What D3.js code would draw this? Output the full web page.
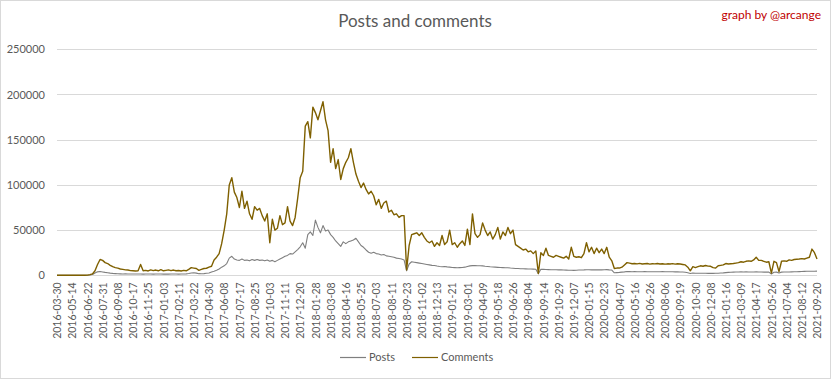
<!DOCTYPE html>
<html><head><meta charset="utf-8">
<script src="https://cdn.jsdelivr.net/npm/d3@7"></script>
<style>
body{margin:0;background:#fff;}
svg{display:block;font-family:Lato,"Open Sans",sans-serif;}
</style></head>
<body><svg id="c" width="831" height="379"></svg>
<script>
const tickLabels = ["2016-03-30","2016-05-14","2016-06-22","2016-07-31","2016-09-08","2016-10-17","2016-11-25","2017-01-03","2017-02-11","2017-03-22","2017-04-30","2017-06-08","2017-07-17","2017-08-25","2017-10-03","2017-11-11","2017-12-20","2018-01-28","2018-03-08","2018-04-16","2018-05-25","2018-07-03","2018-08-11","2018-09-23","2018-11-02","2018-12-13","2019-01-21","2019-03-01","2019-04-09","2019-05-18","2019-06-26","2019-08-04","2019-09-14","2019-10-29","2019-12-07","2020-01-15","2020-02-23","2020-04-07","2020-05-16","2020-06-26","2020-08-06","2020-09-19","2020-10-30","2020-12-08","2021-01-16","2021-03-09","2021-04-17","2021-05-26","2021-07-04","2021-08-12","2021-09-20"];
const yTicks = [0,50000,100000,150000,200000,250000];
const seriesNames = ["Posts","Comments"];
const comments = [
0,0,0,0,0,0,0,0,0,0,
0,0,200,800,1500,5000,12000,17500,16500,14000,
13000,11000,9500,8500,8000,7000,6500,6000,5800,5200,
5000,4800,5000,12000,5000,5500,4800,6000,5200,5800,
5000,6200,5000,5500,6000,5200,5800,5000,5300,4800,
5500,5000,6500,8500,8000,7500,5500,6500,7500,7800,
9000,10000,17000,20000,24000,35000,50000,68000,100000,108000,
92000,86000,75000,93000,74000,82000,68000,62000,76000,72000,
74000,66000,60000,68000,36000,62000,50000,52000,66000,56000,
58000,76000,60000,55000,64000,85000,108000,115000,165000,170000,
152000,186000,180000,172000,182000,192000,172000,160000,125000,140000,
118000,128000,106000,118000,125000,130000,140000,125000,112000,104000,
97000,102000,95000,90000,93000,88000,78000,84000,74000,80000,
82000,70000,72000,67000,68000,64000,66000,66000,6000,33000,
45000,46000,47000,44000,47000,42000,38000,36000,38000,32000,
36000,33000,44000,34000,37000,50000,34000,36000,31000,35000,
38000,33000,51000,34000,68000,46000,42000,45000,58000,50000,
44000,48000,40000,45000,53000,40000,48000,44000,53000,46000,
50000,34000,32000,30000,28000,29000,26000,27000,24000,27000,
2000,25000,22000,30000,22000,21000,20000,22000,21000,20000,
19000,21000,18000,31000,21000,20000,20500,19500,24000,36000,
26000,31000,24000,30000,25000,29000,24000,31000,20000,16000,
7500,8000,8000,9000,11500,14000,13500,12800,13000,12600,
13200,12500,12800,13000,12400,12800,12600,13000,12500,12800,
12300,12700,12500,12900,12400,12800,12500,12000,11500,9000,
5000,9500,8500,9500,10500,10000,10800,10200,10000,8500,
8000,10500,11000,11500,13000,12500,12800,13000,13500,14000,
15000,14500,15500,16000,15500,17000,20000,16500,16500,15500,
14500,15000,2500,15500,14000,4000,15500,16000,15500,17000,
16500,17500,17800,18000,18500,18000,19000,20000,29000,25000,
18000];
const posts = [
0,0,0,0,0,0,0,0,0,0,
0,0,0,300,800,2500,3800,4200,3700,3200,
2800,2400,2100,1900,1700,1600,1500,1600,1500,1400,
1500,1400,1500,1400,1300,1400,1500,1400,1300,1400,
1500,1400,1300,1400,1300,1400,1500,1400,1300,1400,
1500,1600,2000,2600,2800,2400,1800,1700,1900,2200,
2500,3700,4500,5500,7000,9000,10500,13000,19000,21000,
18000,17000,16500,18000,16500,17000,16000,17500,16500,17500,
16500,17000,16000,17000,15500,16500,15000,16500,18000,19500,
21000,22000,24000,23500,26000,28500,31500,36000,30000,45000,
48000,44000,61000,53000,47000,55000,49000,50000,45000,42000,
38000,35000,32000,37000,35000,37000,38000,39000,41000,37000,
33000,31000,28000,25500,24500,25500,24000,23500,22500,23000,
21500,21000,20500,20000,19000,18500,18000,17000,5000,12500,
15000,14500,14000,13500,13000,12500,12000,11500,11000,10800,
10200,9800,9500,9800,9300,9000,8600,8500,8400,8500,
8600,9000,9800,10400,10700,10800,10600,10500,10400,10000,
9700,9400,9200,9000,8800,8600,8500,8400,8300,8000,
7800,7600,7500,7300,7200,7100,7000,6900,6800,6700,
1800,6600,6500,6400,6300,6200,6200,6100,6000,6000,
5800,5700,5600,5600,5500,5600,5800,5900,6000,6200,
6100,6000,6100,6000,6200,6000,6100,6300,6000,5800,
2800,3000,3200,3500,3800,4200,4100,4000,4100,4000,
3900,4000,4100,4000,3900,4000,4000,3900,4000,4100,
4000,3900,4000,3900,3800,3800,3700,3600,3400,2800,
2000,2500,2300,2200,2200,2300,2200,2100,2200,2100,
2200,2300,2500,2700,3000,3200,3400,3500,3600,3700,
3800,3700,3800,3700,3600,3700,3800,3700,3600,3500,
3600,3500,1500,3400,3500,2500,3500,3600,3600,3700,
3800,3900,4000,4100,4200,4300,4400,4400,4500,4500,
4600];

const svg = d3.select("#c");
const W = 831, H = 379;
const m = {left:57, right:817, top:49.3, bottom:275.3};
const n = comments.length;
const x = d3.scaleLinear().domain([0, n-1]).range([m.left, m.right]);
const y = d3.scaleLinear().domain([0, 250000]).range([m.bottom, m.top]);
const tickStep = (n-1)/(tickLabels.length-1);

svg.append("rect").attr("x",0.5).attr("y",0.5).attr("width",W-1).attr("height",H-1)
  .attr("fill","#fff").attr("stroke","#d9d9d9");

// grid
svg.append("g").selectAll("line").data(yTicks).join("line")
  .attr("x1",m.left).attr("x2",m.right)
  .attr("y1",d=>Math.round(y(d))+0.5).attr("y2",d=>Math.round(y(d))+0.5)
  .attr("stroke","#d9d9d9").attr("stroke-width",1);

// y axis labels
const yAxis = d3.axisLeft(y).tickValues(yTicks).tickSize(0).tickPadding(0).tickFormat(d=>String(d));
const gy = svg.append("g").attr("transform",`translate(${m.left-12},0)`).call(yAxis);
gy.select(".domain").remove();
gy.selectAll("text").attr("fill","#595959").style("font-size","11px").style("font-family","Lato,sans-serif");

// x axis labels
const tickScale = d3.scaleLinear().domain([0, tickLabels.length-1]).range([0, n-1]);
const xAxis = d3.axisBottom(x).tickValues(tickLabels.map((d,i)=>tickScale(i))).tickSize(0).tickPadding(0)
  .tickFormat((d,i)=>tickLabels[i]);
const gx = svg.append("g").attr("transform",`translate(0,${m.bottom})`).call(xAxis);
gx.select(".domain").remove();
gx.selectAll("text")
  .attr("transform","rotate(-90)")
  .attr("text-anchor","end")
  .attr("x",-7).attr("y",0).attr("dy","0.35em")
  .attr("fill","#595959").style("font-size","10.5px").style("font-family","Lato,sans-serif");

// lines
const line = d3.line().x((d,i)=>x(i)).y(d=>y(d));
svg.append("path").datum(posts).attr("d",line).attr("fill","none")
  .attr("stroke","#7f7f7f").attr("stroke-width",1.1).attr("stroke-linejoin","round");
svg.append("path").datum(comments).attr("d",line).attr("fill","none")
  .attr("stroke","#7f6000").attr("stroke-width",1.4).attr("stroke-linejoin","round");

// title
svg.append("text").attr("x",415).attr("y",27).attr("text-anchor","middle")
  .attr("fill","#595959").style("font-size","17px").style("font-family","Lato,sans-serif")
  .text("Posts and comments");
svg.append("text").attr("x",821).attr("y",19).attr("text-anchor","end")
  .attr("fill","#c00000").style("font-size","12px").style("font-family","Lato,sans-serif")
  .text("graph by @arcange");

// legend
const legend = [{name:seriesNames[0], color:"#7f7f7f", x:340},{name:seriesNames[1], color:"#7f6000", x:412}];
const lg = svg.append("g").selectAll("g").data(legend).join("g");
lg.append("line").attr("x1",d=>d.x).attr("x2",d=>d.x+26).attr("y1",357.5).attr("y2",357.5)
  .attr("stroke",d=>d.color).attr("stroke-width",1.2);
lg.append("text").attr("x",d=>d.x+29).attr("y",357).attr("dy","0.35em")
  .attr("fill","#595959").style("font-size","11px").style("font-family","Lato,sans-serif")
  .text(d=>d.name);
</script></body></html>
